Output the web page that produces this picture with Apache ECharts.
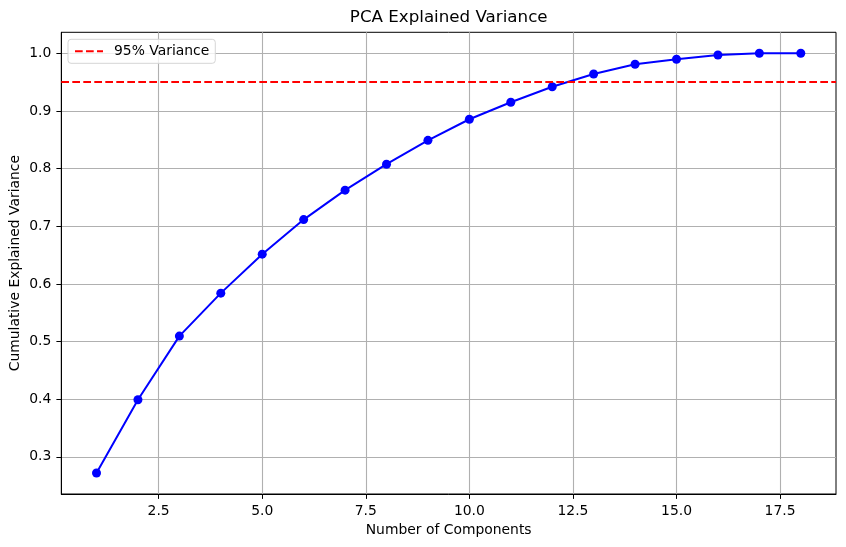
<!DOCTYPE html>
<html>
<head>
<meta charset="utf-8">
<script src="https://cdn.jsdelivr.net/npm/echarts@6/dist/echarts.min.js"></script>
<style>html,body{margin:0;padding:0;background:#fff;}#chart{width:846px;height:547px;}</style>
</head>
<body>
<div id="chart"></div>
<script>
const components = [1,2,3,4,5,6,7,8,9,10,11,12,13,14,15,16,17,18];
const cumulativeVariance = [0.272,0.399,0.5095,0.584,0.6516,0.7116,0.7626,0.8076,0.849,0.8856,0.915,0.942,0.964,0.981,0.9896,0.997,1.0,1.0];
const threshold = 0.95;
const xTicks = [2.5,5.0,7.5,10.0,12.5,15.0,17.5];
const yTicks = [0.3,0.4,0.5,0.6,0.7,0.8,0.9,1.0];

const font = 'DejaVu Sans';
const chart = echarts.init(document.getElementById('chart'), null, {renderer:'canvas'});
const xmin = 1 - 0.05*17, xmax = 18 + 0.05*17;
const yr = 1.0 - 0.272;
const ymin = 0.272 - 0.05*yr, ymax = 1.0 + 0.05*yr;
const dash = [7.7, 3.3];

chart.setOption({
  animation: false,
  backgroundColor: '#fff',
  title: {
    text: 'PCA Explained Variance',
    left: 448.7, top: 9, textAlign: 'center', padding: 0,
    textStyle: {fontFamily: font, fontSize: 16.7, fontWeight: 'normal', color: '#000'}
  },
  grid: {left: 61.3, right: 10, top: 32.3, bottom: 53, containLabel: false, outerBoundsMode: 'none', show: true, borderColor: '#000', borderWidth: 1, backgroundColor: 'transparent'},
  legend: {
    data: ['95% Variance'],
    left: 68, top: 39.3,
    padding: [5, 6, 5, 6],
    itemWidth: 28, itemHeight: 14,
    backgroundColor: 'rgba(255,255,255,0.8)',
    borderColor: '#d5d5d5', borderWidth: 1, borderRadius: 3,
    itemStyle: {opacity: 0},
    lineStyle: {color: '#ff0000', width: 2, type: dash, opacity: 1},
    textStyle: {fontFamily: font, fontSize: 13.9, color: '#000', padding: [0,0,0,6]}
  },
  xAxis: {
    type: 'value', min: xmin, max: xmax,
    name: 'Number of Components', nameLocation: 'middle', nameGap: 29, nameMoveOverlap: false,
    nameTextStyle: {fontFamily: font, fontSize: 13.9, color: '#000'},
    axisLine: {show: true, onZero: false, lineStyle: {color: '#000', width: 1}},
    axisTick: {show: true, length: 4.9, lineStyle: {color: '#000', width: 1}, customValues: xTicks},
    axisLabel: {fontFamily: font, fontSize: 13.9, color: '#000', margin: 10, customValues: xTicks, formatter: v => v.toFixed(1)},
    splitLine: {show: true, lineStyle: {color: '#b0b0b0', width: 1.1}}
  },
  yAxis: {
    type: 'value', min: ymin, max: ymax,
    name: 'Cumulative Explained Variance', nameLocation: 'middle', nameGap: 46, nameMoveOverlap: false,
    nameTextStyle: {fontFamily: font, fontSize: 13.9, color: '#000', verticalAlign: 'middle'},
    axisLine: {show: true, onZero: false, lineStyle: {color: '#000', width: 1}},
    axisTick: {show: true, length: 4.9, lineStyle: {color: '#000', width: 1}, customValues: yTicks},
    axisLabel: {fontFamily: font, fontSize: 13.9, color: '#000', margin: 10, customValues: yTicks, formatter: v => v.toFixed(1)},
    splitLine: {show: true, lineStyle: {color: '#b0b0b0', width: 1.1}}
  },
  series: [
    {
      name: 'Cumulative',
      type: 'line',
      data: components.map((c, i) => [c, cumulativeVariance[i]]),
      symbol: 'circle', symbolSize: 9,
      lineStyle: {color: '#0000ff', width: 2},
      itemStyle: {color: '#0000ff'},
      z: 3
    },
    {
      name: '95% Variance',
      type: 'line',
      data: [],
      symbol: 'none',
      lineStyle: {color: '#ff0000', width: 2, type: dash},
      itemStyle: {color: '#ff0000'},
      markLine: {
        silent: true, symbol: 'none', label: {show: false},
        lineStyle: {color: '#ff0000', width: 2, type: dash},
        data: [{yAxis: threshold}]
      },
      z: 2
    }
  ]
});
</script>
</body>
</html>
